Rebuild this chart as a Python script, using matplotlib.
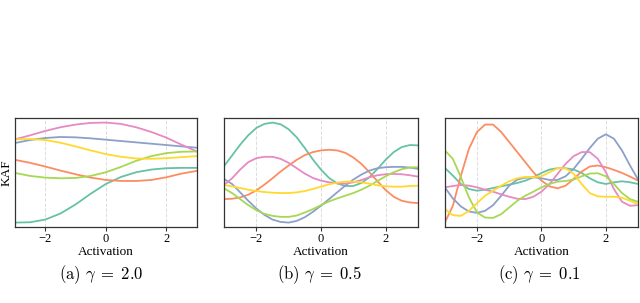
import numpy as np
from matplotlib import pyplot as plt

plt.rcParams['mathtext.fontset'] = 'cm'
plt.rcParams['font.family'] = ['Liberation Serif', 'DejaVu Serif']

# Set2 colours used for the six kernel activation functions
teal, orange, blue, pink, green, yellow = '#66c2a5', '#fc8d62', '#8da0cb', '#e78ac3', '#a6d854', '#ffd92f'

# (a) gamma = 2.0, sampled every 0.5
x_a = [-3.0, -2.5, -2.0, -1.5, -1.0, -0.5, 0.0, 0.5, 1.0, 1.5, 2.0, 2.5, 3.0]
a_pink = [2.61, 2.73, 2.86, 2.97, 3.05, 3.10, 3.11, 3.07, 2.97, 2.83, 2.66, 2.45, 2.25]
a_blue = [2.50, 2.59, 2.65, 2.68, 2.67, 2.64, 2.60, 2.56, 2.52, 2.48, 2.44, 2.40, 2.36]
a_yellow = [2.61, 2.62, 2.59, 2.51, 2.40, 2.28, 2.17, 2.09, 2.04, 2.03, 2.05, 2.08, 2.11]
a_green = [1.61, 1.52, 1.47, 1.45, 1.46, 1.52, 1.63, 1.79, 1.97, 2.11, 2.20, 2.24, 2.25]
a_orange = [2.00, 1.91, 1.80, 1.68, 1.57, 1.47, 1.40, 1.37, 1.37, 1.40, 1.48, 1.59, 1.67]
a_teal = [0.13, 0.14, 0.22, 0.40, 0.67, 0.99, 1.28, 1.49, 1.63, 1.71, 1.75, 1.76, 1.76]

# (b) and (c), sampled every 0.25
x_bc = [-3.0, -2.75, -2.5, -2.25, -2.0, -1.75, -1.5, -1.25, -1.0, -0.75, -0.5, -0.25, 0.0,
        0.25, 0.5, 0.75, 1.0, 1.25, 1.5, 1.75, 2.0, 2.25, 2.5, 2.75, 3.0]

b_teal = [1.81, 2.13, 2.45, 2.73, 2.95, 3.07, 3.11, 3.06, 2.91, 2.67, 2.35, 2.01, 1.71,
          1.46, 1.30, 1.22, 1.22, 1.31, 1.48, 1.73, 2.00, 2.23, 2.38, 2.44, 2.43]
b_pink = [1.25, 1.45, 1.71, 1.93, 2.05, 2.09, 2.09, 2.03, 1.91, 1.75, 1.59, 1.46, 1.38,
          1.33, 1.30, 1.29, 1.33, 1.40, 1.48, 1.54, 1.57, 1.58, 1.57, 1.54, 1.50]
b_orange = [0.83, 0.84, 0.88, 0.96, 1.09, 1.26, 1.45, 1.65, 1.83, 2.00, 2.14, 2.23, 2.28,
            2.30, 2.28, 2.21, 2.07, 1.88, 1.63, 1.36, 1.10, 0.90, 0.78, 0.73, 0.71]
b_yellow = [1.25, 1.21, 1.16, 1.11, 1.07, 1.04, 1.02, 1.01, 1.01, 1.03, 1.07, 1.13, 1.20,
            1.27, 1.32, 1.35, 1.35, 1.33, 1.29, 1.24, 1.21, 1.20, 1.20, 1.22, 1.23]
b_blue = [1.43, 1.28, 1.03, 0.78, 0.55, 0.36, 0.22, 0.15, 0.13, 0.18, 0.29, 0.45, 0.63,
          0.83, 1.03, 1.23, 1.41, 1.56, 1.68, 1.75, 1.78, 1.79, 1.79, 1.77, 1.73]
b_green = [1.15, 1.01, 0.83, 0.65, 0.50, 0.39, 0.33, 0.30, 0.30, 0.34, 0.43, 0.53, 0.65,
           0.76, 0.85, 0.93, 1.01, 1.11, 1.23, 1.37, 1.51, 1.63, 1.72, 1.77, 1.78]

c_orange = [0.13, 0.63, 1.53, 2.33, 2.83, 3.05, 3.05, 2.83, 2.53, 2.23, 1.93, 1.63, 1.38,
            1.21, 1.15, 1.23, 1.43, 1.65, 1.80, 1.83, 1.78, 1.70, 1.61, 1.50, 1.38]
c_blue = [1.18, 0.85, 0.61, 0.46, 0.42, 0.48, 0.65, 0.93, 1.23, 1.41, 1.47, 1.48, 1.45,
          1.40, 1.40, 1.51, 1.73, 2.03, 2.35, 2.63, 2.76, 2.63, 2.28, 1.83, 1.41]
c_green = [2.28, 2.03, 1.48, 0.88, 0.43, 0.28, 0.27, 0.38, 0.58, 0.78, 0.93, 1.05, 1.18,
           1.28, 1.35, 1.37, 1.41, 1.51, 1.59, 1.60, 1.51, 1.28, 1.01, 0.83, 0.75]
c_teal = [1.76, 1.53, 1.28, 1.13, 1.08, 1.11, 1.16, 1.21, 1.26, 1.31, 1.38, 1.48, 1.61,
          1.71, 1.75, 1.75, 1.71, 1.61, 1.45, 1.33, 1.28, 1.33, 1.36, 1.33, 1.28]
c_pink = [1.18, 1.22, 1.25, 1.23, 1.18, 1.11, 1.05, 0.97, 0.90, 0.84, 0.83, 0.90, 1.05,
          1.28, 1.58, 1.88, 2.11, 2.23, 2.23, 2.03, 1.63, 1.13, 0.75, 0.63, 0.65]
c_yellow = [0.53, 0.35, 0.33, 0.48, 0.71, 0.93, 1.08, 1.23, 1.36, 1.45, 1.49, 1.48, 1.51,
            1.63, 1.75, 1.75, 1.58, 1.28, 1.01, 0.91, 0.90, 0.90, 0.87, 0.78, 0.68]

captions = [r'$\mathrm{(a)}\ \gamma\;=\;2.0$', r'$\mathrm{(b)}\ \gamma\;=\;0.5$', r'$\mathrm{(c)}\ \gamma\;=\;0.1$']

panels = [
    (x_a, [(a_teal, teal), (a_orange, orange), (a_blue, blue), (a_pink, pink), (a_green, green), (a_yellow, yellow)]),
    (x_bc, [(b_teal, teal), (b_orange, orange), (b_blue, blue), (b_pink, pink), (b_green, green), (b_yellow, yellow)]),
    (x_bc, [(c_teal, teal), (c_orange, orange), (c_blue, blue), (c_pink, pink), (c_green, green), (c_yellow, yellow)]),
]
boxes = [[0.0234, 0.251, 0.284, 0.360], [0.350, 0.251, 0.303, 0.360], [0.695, 0.251, 0.302, 0.360]]
cap_x = [0.158, 0.500, 0.843]

fig = plt.figure(figsize=(6.4, 3.03), dpi=100)
for i, (xs, curves) in enumerate(panels):
    ax = fig.add_axes(boxes[i])
    for ys, col in curves:
        ax.plot(xs, ys, color=col, lw=1.3)
    ax.set_xlim(-3, 3)
    ax.set_ylim(0, 3.25)
    ax.set_xticks([-2, 0, 2])
    ax.set_yticks([])
    #light dashed vertical grid only
    ax.grid(axis='x', color='#dddddd', linestyle='--', linewidth=0.7)
    ax.set_axisbelow(True)
    for s in ax.spines.values():
        s.set_color('#333333')
        s.set_linewidth(0.9)
    ax.tick_params(axis='x', length=3, width=0.8, color='#333333', labelsize=9, pad=1.5)
    ax.set_xlabel('Activation', fontsize=9.5, labelpad=0.5)
    if i == 0:
        ax.set_ylabel('KAF', fontsize=9.5, labelpad=2)
    fig.text(cap_x[i], 0.094, captions[i], ha='center', va='center', fontsize=12)

fig.savefig('out.png', dpi=100)
